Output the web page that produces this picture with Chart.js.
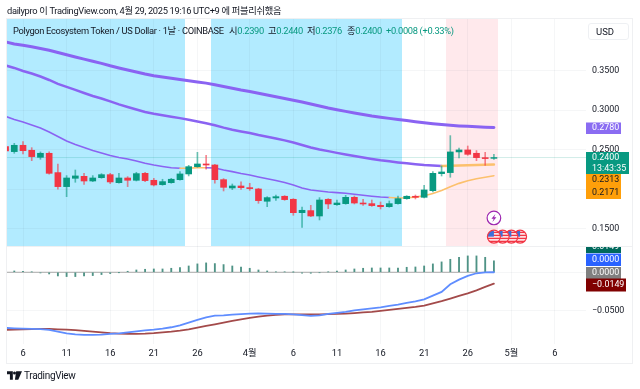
<!DOCTYPE html>
<html>
<head>
<meta charset="utf-8">
<title>POLUSD</title>
<script src="https://cdn.jsdelivr.net/npm/chart.js@4/dist/chart.umd.min.js"></script>
<style>
  body { margin: 0; background: #fff; font-family: Roboto, "Noto Sans CJK KR", sans-serif; color: #131722; }
  #wrap { position: relative; width: 640px; height: 389px; overflow: hidden; }
  canvas { position: absolute; left: 0; top: 0; }
  .txt { position: absolute; white-space: nowrap; font-size: 9.3px; line-height: 12px; letter-spacing: -0.32px; }
  .up { color: #089981; }
  #usd { position: absolute; left: 588px; top: 23px; width: 41px; height: 17px; box-sizing: border-box;
         border: 1px solid #eef0f3; border-radius: 3px; background: #fff; font-size: 9.5px; line-height: 15px; padding-left: 7px; }
</style>
</head>
<body>
<div id="wrap">
  <canvas id="chart" width="640" height="389"></canvas>
  <div class="txt" style="left:7px;top:5px">dailypro 이 TradingView.com, 4월 29, 2025 19:16 UTC+9 에 퍼블리쉬했음</div>
  <div class="txt" style="left:13px;top:25px">Polygon Ecosystem Token / US Dollar · 1날 · COINBASE</div>
  <div class="txt" style="left:229px;top:25px">시<span class="up">0.2390</span></div>
  <div class="txt" style="left:268px;top:25px">고<span class="up">0.2440</span></div>
  <div class="txt" style="left:307px;top:25px">저<span class="up">0.2376</span></div>
  <div class="txt" style="left:347px;top:25px">종<span class="up">0.2400</span></div>
  <div class="txt up" style="left:386px;top:25px">+0.0008 (+0.33%)</div>
  <div id="usd">USD</div>
  <svg style="position:absolute;left:7px;top:371px" width="15" height="9" viewBox="0 0 36 20">
    <path fill="#131722" d="M0 0h14v20H7V7H0z M22 0h14L27 20H19z"/><circle cx="18" cy="4" r="3.6" fill="#131722"/>
  </svg>
  <div class="txt" style="left:24px;top:370px;font-size:10px">TradingView</div>
</div>

<script>
// day numbers: 0 is 6 March, last candle (54) is 29 April
const opens = [0.2538,0.2475,0.2555,0.2492,0.2403,0.2454,0.2210,0.2033,0.2138,0.2163,
  0.2104,0.2146,0.2184,0.2083,0.2142,0.2113,0.2201,0.2113,0.2058,0.2083,
  0.2121,0.2193,0.2285,0.2319,0.2306,0.2121,0.2016,0.2041,0.2020,0.2003,
  0.1848,0.1890,0.1911,0.1873,0.1704,0.1730,0.1662,0.1873,0.1805,0.1818,
  0.1898,0.1826,0.1818,0.1797,0.1780,0.1818,0.1881,0.1911,0.1898,0.1982,
  0.2197,0.2210,0.2471,0.2496,0.2454,0.2399,0.2390];
const highs = [0.2546,0.2580,0.2601,0.2525,0.2471,0.2471,0.2319,0.2172,0.2243,0.2201,
  0.2172,0.2197,0.2201,0.2201,0.2159,0.2214,0.2214,0.2138,0.2126,0.2138,
  0.2222,0.2302,0.2466,0.2429,0.2315,0.2134,0.2066,0.2092,0.2075,0.2012,
  0.1906,0.1927,0.1919,0.1881,0.1776,0.1797,0.1894,0.1881,0.1864,0.1923,
  0.1915,0.1873,0.1864,0.1839,0.1852,0.1915,0.1919,0.1927,0.2050,0.2222,
  0.2294,0.2677,0.2521,0.2546,0.2488,0.2466,0.2440];
const lows = [0.2475,0.2454,0.2445,0.2361,0.2378,0.2189,0.2000,0.1906,0.2088,0.2062,
  0.2096,0.2138,0.2071,0.2075,0.2033,0.2104,0.2096,0.2041,0.2050,0.2075,
  0.2113,0.2168,0.2277,0.2252,0.2075,0.1978,0.1995,0.1999,0.1986,0.1822,
  0.1780,0.1860,0.1860,0.1671,0.1519,0.1654,0.1612,0.1755,0.1797,0.1810,
  0.1814,0.1797,0.1784,0.1751,0.1772,0.1810,0.1873,0.1877,0.1890,0.1965,
  0.2167,0.2151,0.2395,0.2428,0.2361,0.2302,0.2376];
const closes = [0.2483,0.2555,0.2487,0.2412,0.2454,0.2201,0.2033,0.2142,0.2168,0.2104,
  0.2142,0.2184,0.2092,0.2142,0.2113,0.2197,0.2109,0.2054,0.2096,0.2126,
  0.2193,0.2285,0.2319,0.2306,0.2121,0.2024,0.2041,0.2020,0.2008,0.1856,
  0.1894,0.1906,0.1869,0.1704,0.1734,0.1662,0.1864,0.1814,0.1826,0.1898,
  0.1826,0.1814,0.1793,0.1780,0.1818,0.1881,0.1911,0.1898,0.1991,0.2201,
  0.2218,0.2471,0.2496,0.2441,0.2399,0.2387,0.2400];

const maSlow = [0.3860,0.3835,0.3818,0.3799,0.3778,0.3755,0.3726,0.3698,0.3671,0.3643,
  0.3616,0.3590,0.3559,0.3532,0.3506,0.3481,0.3456,0.3434,0.3418,0.3401,
  0.3386,0.3371,0.3355,0.3340,0.3319,0.3298,0.3276,0.3254,0.3235,0.3213,
  0.3191,0.3168,0.3145,0.3124,0.3102,0.3077,0.3052,0.3026,0.3005,0.2983,
  0.2963,0.2944,0.2925,0.2910,0.2895,0.2881,0.2867,0.2853,0.2841,0.2828,
  0.2817,0.2808,0.2800,0.2794,0.2789,0.2784,0.2780];
const maMid = [0.3563,0.3532,0.3494,0.3462,0.3424,0.3380,0.3330,0.3292,0.3254,0.3216,
  0.3178,0.3146,0.3109,0.3071,0.3039,0.3007,0.2976,0.2953,0.2934,0.2915,
  0.2898,0.2877,0.2856,0.2834,0.2808,0.2778,0.2751,0.2730,0.2711,0.2685,
  0.2663,0.2640,0.2617,0.2591,0.2559,0.2527,0.2502,0.2481,0.2459,0.2439,
  0.2420,0.2400,0.2382,0.2365,0.2352,0.2339,0.2327,0.2316,0.2306,0.2299,
  0.2294,0.2296,0.2300,0.2304,0.2306,0.2309,0.2313];
const maFast = [0.2919,0.2881,0.2850,0.2812,0.2774,0.2723,0.2666,0.2610,0.2565,0.2527,
  0.2490,0.2458,0.2426,0.2401,0.2382,0.2357,0.2328,0.2306,0.2288,0.2272,
  0.2265,0.2266,0.2271,0.2272,0.2269,0.2243,0.2222,0.2199,0.2180,0.2155,
  0.2132,0.2111,0.2085,0.2054,0.2016,0.1991,0.1978,0.1965,0.1957,0.1949,
  0.1936,0.1924,0.1912,0.1902,0.1895,0.1890,0.1892,0.1900,0.1917,0.1945,
  0.1983,0.2032,0.2074,0.2108,0.2132,0.2152,0.2171];

const histValues = [0.0020,0.0017,0.0013,0.0004,-0.0009,-0.0022,-0.0048,-0.0056,-0.0056,-0.0048,
  -0.0043,-0.0030,-0.0017,-0.0002,0.0013,0.0030,0.0039,0.0043,0.0043,0.0052,
  0.0061,0.0082,0.0109,0.0122,0.0113,0.0100,0.0082,0.0069,0.0052,0.0030,
  0.0017,0.0004,0.0004,0.0001,-0.0013,-0.0013,-0.0004,0.0004,0.0017,0.0030,
  0.0043,0.0052,0.0056,0.0056,0.0056,0.0056,0.0065,0.0069,0.0082,0.0109,
  0.0135,0.0169,0.0195,0.0213,0.0213,0.0195,0.0149];
const macdLine = [-0.0725,-0.0730,-0.0734,-0.0738,-0.0740,-0.0751,-0.0773,-0.0795,-0.0808,-0.0816,
  -0.0816,-0.0812,-0.0803,-0.0795,-0.0782,-0.0769,-0.0756,-0.0747,-0.0734,-0.0716,
  -0.0690,-0.0656,-0.0621,-0.0586,-0.0565,-0.0560,-0.0552,-0.0545,-0.0539,-0.0536,
  -0.0539,-0.0541,-0.0543,-0.0547,-0.0558,-0.0569,-0.0560,-0.0543,-0.0530,-0.0517,
  -0.0495,-0.0482,-0.0469,-0.0456,-0.0439,-0.0421,-0.0400,-0.0378,-0.0352,-0.0304,
  -0.0256,-0.0157,-0.0096,-0.0048,-0.0013,-0.0002,0.0000];
const signalLine = [-0.0751,-0.0747,-0.0743,-0.0740,-0.0738,-0.0738,-0.0743,-0.0747,-0.0753,-0.0764,
  -0.0773,-0.0782,-0.0792,-0.0799,-0.0803,-0.0803,-0.0799,-0.0792,-0.0782,-0.0773,
  -0.0760,-0.0743,-0.0721,-0.0699,-0.0677,-0.0656,-0.0634,-0.0612,-0.0595,-0.0578,
  -0.0565,-0.0556,-0.0549,-0.0547,-0.0547,-0.0547,-0.0547,-0.0545,-0.0541,-0.0539,
  -0.0532,-0.0523,-0.0515,-0.0504,-0.0491,-0.0476,-0.0463,-0.0450,-0.0434,-0.0404,
  -0.0376,-0.0343,-0.0308,-0.0274,-0.0235,-0.0191,-0.0149];

const days = closes.map((c, i) => i - 2);
const tickDays = [0, 5, 10, 15, 20, 26, 31, 36, 41, 46, 51, 56, 61];
const tickNames = ['6', '11', '16', '21', '26', '4월', '6', '11', '16', '21', '26', '5월', '6'];
const priceTicks = [0.35, 0.30, 0.25, 0.20, 0.15];
const macdTicks = [0, -0.05];

// background sessions, in day numbers
const blueZones = [[-3, 18.58], [21.56, 43.46]];
const pinkZones = [[48.5, 54.5]];
const lastPrice = 0.24;
const flagDays = [54, 55, 56, 57];
const boltDays = [54];
const midOrangeFrom = 49;
const fastOrangeDays = [19, 20, 21];
const fastOrangeFrom = 43;

const GREEN = '#089981', RED = '#f23645', PURPLE = '#8a63f2', ORANGE = '#fcc06c';
const FONT = 'Roboto, "Noto Sans CJK KR", sans-serif';

function pts(values) {
  return values.map((v, i) => ({ x: days[i], y: v }));
}

function lineSet(values, color, width, axis, order, segColor) {
  const ds = {
    type: 'line', data: pts(values), yAxisID: axis, borderColor: color, borderWidth: width,
    pointRadius: 0, tension: 0, order: order, borderCapStyle: 'round'
  };
  if (segColor) ds.segment = { borderColor: segColor };
  return ds;
}

// paint the sessions and the pane frame under the grid
const backgroundPlugin = {
  id: 'background',
  beforeDraw(chart) {
    const { ctx, chartArea: a, scales } = chart;
    const paneBottom = scales.y.bottom;
    ctx.save();
    ctx.beginPath();
    ctx.rect(a.left, a.top, a.right - a.left, paneBottom - a.top);
    ctx.clip();
    const paint = (zones, color) => {
      ctx.fillStyle = color;
      zones.forEach(z => {
        const x0 = Math.round(scales.x.getPixelForValue(z[0]));
        const x1 = Math.round(scales.x.getPixelForValue(z[1]));
        ctx.fillRect(x0, a.top, x1 - x0, paneBottom - a.top);
      });
    };
    paint(blueZones, '#b2ebff');
    paint(pinkZones, '#ffe9ec');
    ctx.restore();

    ctx.strokeStyle = '#eff0f2';
    ctx.lineWidth = 1;
    ctx.strokeRect(6.5, 18.5, 626, 345);
    ctx.beginPath();
    ctx.moveTo(7, 246.5);
    ctx.lineTo(633, 246.5);
    ctx.stroke();
  }
};

function drawFlag(ctx, x, y) {
  ctx.save();
  ctx.beginPath();
  ctx.arc(x, y, 6.5, 0, Math.PI * 2);
  ctx.fillStyle = '#fff';
  ctx.fill();
  ctx.clip();
  ctx.fillStyle = '#f23645';
  for (let k = -5; k < 7; k += 3) ctx.fillRect(x - 7, y + k, 14, 1.5);
  ctx.fillStyle = '#3f6fd8';
  ctx.fillRect(x - 7, y - 6, 7, 6);
  ctx.restore();
  ctx.beginPath();
  ctx.arc(x, y, 6.5, 0, Math.PI * 2);
  ctx.strokeStyle = '#f23645';
  ctx.lineWidth = 1.2;
  ctx.stroke();
}

function drawBolt(ctx, x, y) {
  ctx.beginPath();
  ctx.arc(x, y, 6.8, 0, Math.PI * 2);
  ctx.fillStyle = '#fff';
  ctx.fill();
  ctx.strokeStyle = '#9c27b0';
  ctx.lineWidth = 1.2;
  ctx.stroke();
  ctx.beginPath();
  ctx.moveTo(x + 1.5, y - 4);
  ctx.lineTo(x - 2.5, y + 0.8);
  ctx.lineTo(x - 0.2, y + 0.8);
  ctx.lineTo(x - 1.5, y + 4);
  ctx.lineTo(x + 2.5, y - 0.8);
  ctx.lineTo(x + 0.2, y - 0.8);
  ctx.closePath();
  ctx.fillStyle = '#9c27b0';
  ctx.fill();
}

// price tags on the right axis and the event icons
const tagsPlugin = {
  id: 'tags',
  afterDraw(chart) {
    const { ctx, scales } = chart;
    const tag = (top, h, w, bg, fg, lines) => {
      ctx.fillStyle = bg;
      ctx.fillRect(586, top, w, h);
      ctx.fillStyle = fg;
      ctx.font = '8.9px ' + FONT;
      ctx.textBaseline = 'middle';
      ctx.textAlign = 'left';
      lines.forEach((t, i) => ctx.fillText(t, 592, top + (h / lines.length) * (i + 0.5)));
    };
    tag(122.5, 11.5, 35, '#8a6cf2', '#fff', [maSlow[maSlow.length - 1].toFixed(4)]);
    tag(174, 25, 35, '#ff9f0a', '#131722', [maMid[maMid.length - 1].toFixed(4), maFast[maFast.length - 1].toFixed(4)]);
    tag(152, 22, 43, GREEN, '#fff', [closes[closes.length - 1].toFixed(4), '13:43:35']);

    ctx.save();
    ctx.beginPath();
    ctx.rect(586, 247, 50, 100);
    ctx.clip();
    tag(241, 12, 35, '#00695c', '#fff', [histValues[histValues.length - 1].toFixed(4)]);
    ctx.restore();
    tag(253.5, 12.5, 35, '#2962ff', '#fff', [macdLine[macdLine.length - 1].toFixed(4)]);
    tag(267, 12, 35, '#808080', '#fff', ['0.0000']);
    tag(278.5, 13, 40, '#800000', '#fff', ['−' + Math.abs(signalLine[signalLine.length - 1]).toFixed(4)]);

    const iconY = scales.y.getPixelForValue(0.1401);
    flagDays.slice().reverse().forEach(d => drawFlag(ctx, scales.x.getPixelForValue(d), iconY));
    boltDays.forEach(d => drawBolt(ctx, scales.x.getPixelForValue(d), scales.y.getPixelForValue(0.1637)));
  }
};

const candleColors = closes.map((c, i) => (c >= opens[i] ? GREEN : RED));
const wickColors = closes.map((c, i) => (c >= opens[i] ? 'rgba(8,153,129,0.6)' : 'rgba(242,54,69,0.6)'));

new Chart(document.getElementById('chart').getContext('2d'), {
  type: 'bar',
  plugins: [backgroundPlugin, tagsPlugin],
  data: {
    datasets: [
      {
        data: days.map((d, i) => ({ x: d, y: [opens[i], closes[i]] })),
        backgroundColor: candleColors, barThickness: 6, borderWidth: 0, yAxisID: 'y', order: 1
      },
      {
        data: days.map((d, i) => ({ x: d, y: [lows[i], highs[i]] })),
        backgroundColor: wickColors, barThickness: 1, borderWidth: 0, yAxisID: 'y', order: 2
      },
      lineSet(maSlow, PURPLE, 3, 'y', 3),
      lineSet(maMid, PURPLE, 2.5, 'y', 3, c => (days[c.p1DataIndex] >= midOrangeFrom ? ORANGE : PURPLE)),
      lineSet(maFast, PURPLE, 1.6, 'y', 3, c => {
        const d = days[c.p1DataIndex];
        return d >= fastOrangeFrom || fastOrangeDays.includes(d) ? ORANGE : PURPLE;
      }),
      {
        type: 'line', yAxisID: 'y', order: 4, pointRadius: 0, borderWidth: 1,
        borderColor: 'rgba(8,153,129,0.18)',
        data: [{ x: -2, y: lastPrice }, { x: 65, y: lastPrice }]
      },
      {
        data: days.map((d, i) => ({ x: d, y: histValues[i] })),
        backgroundColor: '#4f9386', barThickness: 1.2, borderWidth: 0, yAxisID: 'y2', order: 2
      },
      lineSet(days.map(() => 0), '#a8a8a8', 1, 'y2', 3),
      lineSet(macdLine, '#5f8dff', 1.8, 'y2', 1),
      lineSet(signalLine, '#a34a4a', 1.8, 'y2', 1)
    ]
  },
  options: {
    responsive: false,
    animation: false,
    events: [],
    layout: { padding: { left: 7, right: 7, top: 19, bottom: 26 } },
    datasets: { bar: { grouped: false, borderSkipped: false } },
    plugins: { legend: { display: false }, tooltip: { enabled: false } },
    scales: {
      x: {
        type: 'linear', min: -1.835, max: 64.56, offset: false,
        grid: { color: 'rgba(90,100,120,0.06)', drawTicks: false, offset: false },
        border: { display: false },
        afterBuildTicks: s => { s.ticks = tickDays.map(v => ({ value: v })); },
        afterFit: s => { s.height = 19; },
        ticks: {
          autoSkip: false, maxRotation: 0, padding: 4, color: '#131722', font: { size: 9.3, family: FONT },
          callback: v => tickNames[tickDays.indexOf(v)]
        }
      },
      y: {
        position: 'right', stack: 'panes', stackWeight: 227, min: 0.1283, max: 0.4150,
        grid: { color: 'rgba(90,100,120,0.06)', drawTicks: false },
        border: { display: false },
        afterBuildTicks: s => { s.ticks = priceTicks.map(v => ({ value: v })); },
        afterFit: s => { s.width = 47; },
        ticks: { padding: 6, color: '#131722', font: { size: 8.9, family: FONT }, callback: v => v.toFixed(4) }
      },
      y2: {
        position: 'right', stack: 'panes', stackWeight: 98, min: -0.0934, max: 0.0342,
        grid: { color: 'rgba(90,100,120,0.06)', drawTicks: false },
        border: { display: false },
        afterBuildTicks: s => { s.ticks = macdTicks.map(v => ({ value: v })); },
        afterFit: s => { s.width = 47; },
        ticks: {
          padding: 6, color: '#131722', font: { size: 8.9, family: FONT },
          callback: v => (v < 0 ? '−' + Math.abs(v).toFixed(4) : v.toFixed(4))
        }
      }
    }
  }
});
</script>
</body>
</html>
